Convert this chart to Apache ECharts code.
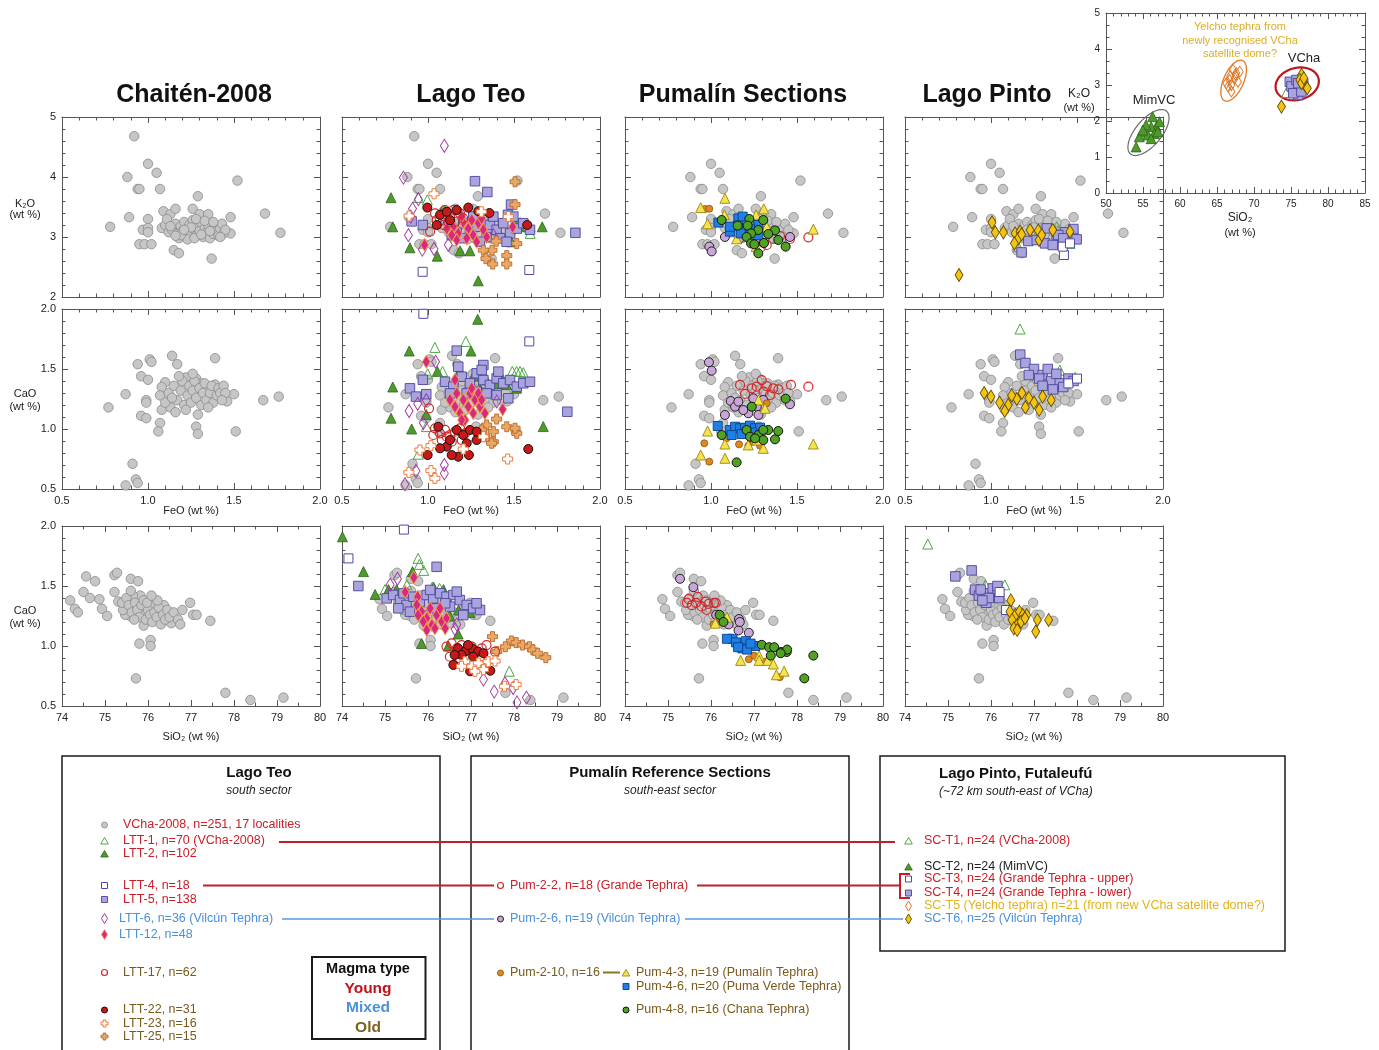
<!DOCTYPE html>
<html><head><meta charset="utf-8">
<script src="https://cdn.jsdelivr.net/npm/echarts@6.0.0/dist/echarts.min.js"></script>
<style>html,body{margin:0;padding:0;background:#fff}#c{width:1379px;height:1050px}</style>
</head><body><div id="c"></div>
<script>
// ---------------- DATA ----------------
const PANEL_TITLES = ['Chaitén-2008', 'Lago Teo', 'Pumalín Sections', 'Lago Pinto'];

// VCha-2008 reference (grey) : FeO-K2O, FeO-CaO, SiO2-CaO
const VCHA_FK = [[1.0,4.22],[1.05,4.07],[0.88,4.0],[0.94,3.8],[0.95,3.8],[1.07,3.8],[1.29,3.68],[1.52,3.94],[0.78,3.17],[0.89,3.33],[1.0,3.3],[0.97,3.12],[1.0,3.15],[1.0,3.08],[0.95,2.88],[0.98,2.88],[1.02,2.88],[1.09,3.43],[1.13,3.38],[1.16,3.47],[1.26,3.47],[1.3,3.38],[1.35,3.38],[1.48,3.33],[1.68,3.39],[1.77,3.07],[1.48,3.06],[1.15,2.78],[1.18,2.73],[1.37,2.64],
 [1.08,3.15],[1.1,3.2],[1.12,3.08],[1.14,3.12],[1.16,3.22],[1.17,3.05],[1.19,3.18],[1.2,3.1],[1.21,3.25],[1.22,3.0],[1.23,3.14],[1.24,3.2],[1.25,3.06],[1.26,3.28],[1.27,3.12],[1.28,3.02],[1.29,3.18],[1.3,3.1],[1.31,3.24],[1.32,3.0],[1.33,3.15],[1.34,3.07],[1.35,3.2],[1.36,2.98],[1.37,3.12],[1.38,3.05],[1.39,3.18],[1.4,3.1],[1.41,3.02],[1.42,3.14],[1.43,3.22],[1.44,3.06],[1.45,3.12],[1.11,3.3],[1.18,2.98],[1.23,2.96],[1.28,3.3],[1.33,3.27],[1.38,3.25],[1.27,2.98],[1.19,3.03],[1.13,3.18],[1.25,3.16],[1.31,3.04],[1.36,3.1],[1.21,3.12],[1.16,3.02],[1.42,3.0]];
const VCHA_FK_EXTRA = [[0.92,4.68]];
const VCHA_FC = [[0.77,1.18],[0.87,0.53],[0.93,0.58],[0.94,0.55],[0.91,0.71],[0.87,1.29],[0.94,1.54],[0.96,1.44],[1.01,1.58],[0.99,1.24],[0.99,1.22],[0.96,1.11],[0.99,1.09],[1.14,1.61],[1.17,1.54],[1.39,1.59],[1.1,1.39],[1.08,1.35],[1.07,1.28],[1.08,1.16],[1.07,1.05],[1.67,1.24],[1.76,1.27],[1.51,0.98],[1.22,1.43],[1.28,1.42],[1.31,1.38],[1.35,1.33],[1.39,1.37],[1.46,1.23],[1.5,1.29],[1.28,1.02],[1.29,0.96],[1.0,1.41],[1.02,1.56],
 [1.12,1.3],[1.15,1.36],[1.17,1.24],[1.19,1.32],[1.2,1.4],[1.21,1.2],[1.23,1.28],[1.24,1.36],[1.25,1.22],[1.26,1.32],[1.27,1.4],[1.28,1.26],[1.3,1.34],[1.31,1.2],[1.32,1.3],[1.33,1.38],[1.34,1.24],[1.36,1.3],[1.37,1.36],[1.38,1.22],[1.4,1.28],[1.41,1.34],[1.42,1.3],[1.44,1.36],[1.45,1.3],[1.13,1.18],[1.16,1.14],[1.22,1.16],[1.29,1.12],[1.35,1.18],[1.1,1.22],[1.18,1.44],[1.26,1.46],[1.43,1.24],[1.14,1.26],[1.06,0.98]];
const VCHA_SC = [[74.87,1.39],[74.93,1.31],[75.05,1.25],[75.22,1.59],[75.28,1.61],[75.22,1.45],[75.6,1.56],[75.77,1.54],[75.59,1.25],[75.82,1.42],[75.9,1.28],[76.12,1.34],[76.37,1.34],[76.98,1.36],[77.05,1.26],[77.13,1.26],[77.45,1.21],[75.72,0.73],[75.8,1.02],[76.06,1.05],[76.06,1.0],[77.8,0.61],[78.38,0.55],[79.15,0.57],[75.31,1.37],[75.52,1.31],[75.9,1.17],[76.54,1.19],[75.65,1.42],[75.47,1.26],[75.42,1.3],
 [75.4,1.36],[75.5,1.4],[75.55,1.34],[75.62,1.28],[75.7,1.36],[75.75,1.3],[75.8,1.24],[75.85,1.34],[75.9,1.38],[75.95,1.22],[76.0,1.3],[76.05,1.26],[76.1,1.2],[76.15,1.28],[76.2,1.24],[76.25,1.32],[76.3,1.18],[76.35,1.26],[76.4,1.22],[76.45,1.3],[76.5,1.24],[75.68,1.22],[75.98,1.36],[76.22,1.38],[75.6,1.46],[76.08,1.42],[76.6,1.28],[76.7,1.22],[76.75,1.18],[76.8,1.3]];
// extra Chaitén-2008 points only shown in the first column (SiO2-CaO)
const VCHA_SC_EXTRA = [[74.19,1.38],[74.3,1.31],[74.37,1.28],[74.56,1.58],[74.77,1.54],[74.5,1.45],[74.65,1.4]];

// Lago Teo
const LTT1_FK = [[0.944,3.66],[0.996,3.62],[1.594,3.06],[1.535,3.24],[1.1,3.45],[1.085,3.44],[1.52,3.2]];
const LTT1_FC = [[1.04,1.68],[1.22,1.73],[0.998,1.46],[0.944,0.79],[0.99,1.02],[1.515,1.48],[1.535,1.48],[1.49,1.48],[1.554,1.47],[1.085,1.48]];
const LTT1_SC = [[75.77,1.73],[75.8,1.68],[75.9,1.63],[75.51,1.51],[77.89,0.79],[75.0,1.47],[76.1,1.49],[76.27,1.48]];
const LTT2_FK = [[0.785,3.655],[0.795,3.17],[0.895,2.82],[1.054,2.68],[1.292,2.27],[1.664,3.17],[1.186,2.77],[1.244,2.77],[1.496,3.17],[1.535,3.17],[1.593,3.17],[1.486,2.92],[1.079,3.41],[1.505,3.25]];
const LTT2_FC = [[1.289,1.914],[0.891,1.65],[0.795,1.35],[0.785,1.09],[0.905,1.0],[1.25,1.65],[1.054,1.48],[1.186,1.49],[1.67,1.02],[0.99,1.12],[1.264,1.44],[1.34,1.41],[1.4,1.38],[1.457,1.37],[1.515,1.34],[1.3,1.34],[1.418,1.46],[1.486,1.41]];
const LTT2_SC = [[74.01,1.91],[74.5,1.62],[74.77,1.43],[75.08,1.47],[75.64,1.62],[75.85,1.02],[76.47,1.0],[76.7,1.1],[75.27,1.47],[76.13,1.49],[76.36,1.47],[76.71,1.3],[76.98,1.28],[76.51,1.25]];
const LTT4_FK = [[0.969,2.42],[1.589,2.45]];
const LTT4_FC = [[0.973,1.96],[1.589,1.73]];
const LTT4_SC = [[75.44,1.97],[74.15,1.73]];
const LTT5_FK = [[1.273,3.93],[1.345,3.75],[1.483,3.54],[1.465,3.37],[1.857,3.07],[0.905,3.26],[0.97,3.2],[1.089,3.28],[1.128,3.2],[1.167,3.12],[1.205,3.23],[1.244,3.06],[1.283,3.17],[1.322,3.28],[1.36,3.2],[1.399,3.12],[1.438,3.23],[1.477,3.06],[1.516,3.14],[1.554,3.23],[1.341,3.0],[1.302,2.92],[1.419,2.98],[1.457,2.92],[1.38,3.34],[1.263,3.34],[1.196,2.98],[1.593,3.12],[1.496,3.34],[1.138,3.03]];
const LTT5_FC = [[1.167,1.653],[1.322,1.533],[1.81,1.144],[0.895,1.339],[0.93,1.27],[0.97,1.41],[0.99,1.29],[1.099,1.394],[1.147,1.353],[1.196,1.436],[1.244,1.381],[1.283,1.464],[1.322,1.408],[1.36,1.367],[1.399,1.422],[1.438,1.381],[1.477,1.408],[1.516,1.353],[1.554,1.381],[1.593,1.394],[1.225,1.297],[1.283,1.311],[1.341,1.297],[1.399,1.283],[1.467,1.256],[1.128,1.297],[1.176,1.519],[1.312,1.492],[1.409,1.478]];
const LTT5_SC = [[74.38,1.5],[76.2,1.66],[75.04,1.397],[75.19,1.425],[75.35,1.383],[75.5,1.342],[75.66,1.411],[75.81,1.369],[75.97,1.425],[76.12,1.397],[76.28,1.439],[76.43,1.411],[76.59,1.425],[76.74,1.383],[76.9,1.342],[77.05,1.314],[77.21,1.3],[75.58,1.286],[75.89,1.258],[76.2,1.314],[76.51,1.328],[76.82,1.258],[75.43,1.439],[76.05,1.467],[76.67,1.453],[75.31,1.314],[76.4,1.356],[77.13,1.356]];
const LTT6_FK = [[1.095,4.52],[0.857,3.99],[0.944,3.63],[0.886,3.03],[0.967,2.79],[1.035,2.8],[1.118,2.87],[0.91,3.47],[1.38,3.03],[0.9,3.34]];
const LTT6_FC = [[1.044,1.56],[0.89,1.15],[0.973,1.05],[1.095,0.70],[1.095,0.63],[0.866,0.54],[0.93,0.65],[0.99,1.24],[1.4,1.23],[0.94,1.21]];
const LTT6_SC = [[75.29,1.56],[77.79,0.69],[77.54,0.62],[77.98,0.65],[78.07,0.53],[78.29,0.57],[77.29,0.72],[76.63,1.14],[76.67,1.18],[75.12,1.51]];
const LTT12_FK = [[1.118,3.28],[1.147,3.17],[1.176,3.06],[1.205,3.25],[1.234,3.14],[1.263,3.03],[1.293,3.23],[1.322,3.12],[1.341,3.0],[1.167,2.95],[1.225,2.98],[1.283,2.92],[1.196,3.34],[1.254,3.28],[1.312,3.31],[1.138,3.03],[1.109,3.14],[1.492,3.17],[0.98,2.87]];
const LTT12_FC = [[1.128,1.242],[1.157,1.186],[1.186,1.131],[1.215,1.075],[1.244,1.297],[1.273,1.242],[1.302,1.186],[1.331,1.131],[1.205,1.242],[1.263,1.131],[1.293,1.297],[1.167,1.297],[1.234,1.186],[1.254,1.339],[1.312,1.242],[1.196,1.075],[0.99,1.56],[1.157,1.41],[1.434,1.164]];
const LTT12_SC = [[75.67,1.57],[75.76,1.41],[75.74,1.342],[75.85,1.286],[75.97,1.231],[76.09,1.175],[76.2,1.258],[76.32,1.203],[76.43,1.231],[75.89,1.203],[76.05,1.314],[76.16,1.147],[75.77,1.258],[76.28,1.314],[76.4,1.147],[75.97,1.133],[75.47,1.45]];
const LTT17_FK = [[1.012,3.09],[1.041,3.395],[1.07,3.28],[1.099,3.45],[1.128,3.34],[1.157,3.25],[1.186,3.395],[1.089,3.2],[1.147,3.45],[1.118,3.25],[1.205,3.31],[1.051,3.28]];
const LTT17_FC = [[1.006,1.172],[1.041,1.006],[1.07,0.964],[1.099,0.992],[1.128,0.95],[1.157,0.978],[1.186,1.006],[1.215,0.964],[1.244,0.936],[1.08,0.908],[1.138,0.894],[1.196,0.908],[1.109,0.936],[1.031,0.95]];
const LTT17_SC = [[76.43,0.994],[76.55,1.022],[76.67,0.981],[76.78,1.008],[76.9,0.967],[77.02,0.994],[77.13,0.953],[77.25,0.981],[76.51,0.911],[76.74,0.897],[76.98,0.897],[77.21,0.911],[77.56,0.953],[77.36,1.008]];
const LTT22_FK = [[0.996,3.49],[1.051,3.2],[1.07,3.37],[1.167,3.45],[1.234,3.49],[1.293,3.43],[1.357,3.4],[1.577,3.2],[1.109,3.42],[1.128,3.28]];
const LTT22_FC = [[0.998,0.783],[1.06,1.019],[1.176,0.769],[1.238,0.783],[1.583,0.833],[1.167,0.992],[1.205,0.95],[1.244,0.992],[1.283,0.908],[1.109,0.853],[1.07,0.839],[1.225,0.881],[1.128,0.908],[1.283,0.978],[1.138,0.783]];
const LTT22_SC = [[76.59,0.842],[77.45,0.794],[76.98,0.789],[76.7,0.981],[76.86,0.953],[77.02,0.981],[77.17,0.953],[76.78,0.925],[77.05,0.911],[77.29,0.939],[76.93,1.008],[76.62,0.925]];
const LTT23_FK = [[1.035,3.72],[0.89,3.35],[1.467,3.34],[1.31,3.42]];
const LTT23_FC = [[0.953,0.825],[0.889,0.639],[1.017,0.653],[1.04,0.589],[1.017,0.861],[1.205,0.833],[1.463,0.75],[1.322,0.936]];
const LTT23_SC = [[76.86,0.869],[77.02,0.831],[77.17,0.858],[77.29,0.803],[77.4,0.869],[77.09,0.789],[77.78,0.664],[78.05,0.678],[77.56,0.875],[76.78,0.831]];
const LTT25_FK = [[1.506,3.92],[1.506,3.54],[1.397,2.93],[1.372,2.78],[1.322,2.78],[1.337,2.64],[1.376,2.55],[1.458,2.69],[1.458,2.55],[1.516,2.89]];
const LTT25_FC = [[1.399,1.083],[1.458,1.019],[1.516,0.964],[1.341,1.033],[1.38,0.978],[1.38,0.894],[1.312,0.992],[1.331,0.936],[1.37,0.881],[1.506,1.006]];
const LTT25_SC = [[77.5,1.078],[77.6,0.953],[77.94,1.042],[78.05,1.028],[78.2,1.008],[78.36,0.994],[78.44,0.967],[78.55,0.939],[78.74,0.903],[77.8,0.994]];

// Pumalín
const PUM22_FK = [[1.566,2.995],[1.459,2.967],[1.324,2.867],[1.401,3.017],[1.362,2.967],[1.304,2.9],[1.29,2.83]];
const PUM22_FC = [[1.566,1.353],[1.465,1.367],[1.295,1.408],[1.198,1.292],[1.169,1.367],[1.237,1.339],[1.266,1.353],[1.324,1.358],[1.362,1.339],[1.392,1.331],[1.305,1.311],[1.343,1.283]];
const PUM22_SC = [[75.44,1.36],[75.69,1.41],[75.88,1.37],[76.07,1.36],[75.56,1.34],[75.78,1.33],[75.94,1.35],[75.48,1.39],[75.9,1.3],[75.65,1.36],[76.11,1.36]];
const PUM26_FK = [[0.99,2.84],[1.004,2.76],[1.081,3.0],[1.459,3.0],[1.165,2.97]];
const PUM26_FC = [[0.988,1.556],[1.004,1.486],[1.115,1.233],[1.081,1.117],[1.14,1.186],[1.159,1.228],[1.266,1.186],[1.217,1.131],[1.276,1.117],[1.459,1.206],[1.304,1.242],[1.246,1.256],[1.188,1.158]];
const PUM26_SC = [[75.28,1.56],[75.59,1.49],[76.65,1.225],[76.41,1.18],[76.64,1.13],[76.88,1.11],[76.12,1.26],[76.67,1.2]];
const PUM210_FK = [[0.965,3.467],[0.99,3.47]];
const PUM210_FC = [[0.961,0.881],[0.99,0.728],[1.09,0.922],[1.163,0.872],[1.217,0.861],[1.285,0.861],[1.324,1.214],[1.246,0.894]];
const PUM210_SC = [[76.06,1.18],[76.88,0.89],[77.26,0.87],[77.6,0.74],[76.2,1.23],[77.0,0.92]];
const PUM43_FK = [[1.081,3.645],[0.94,3.49],[0.98,3.22],[1.307,3.47],[1.262,3.37],[1.078,3.37],[1.595,3.13],[1.149,2.97],[1.324,3.17],[1.262,2.84]];
const PUM43_FC = [[0.98,0.983],[0.94,0.783],[1.081,0.756],[1.081,0.875],[1.595,0.875],[1.276,1.242],[1.314,1.172],[1.304,0.839],[1.217,0.867],[1.266,0.908]];
const PUM43_SC = [[76.37,1.24],[76.69,0.88],[77.12,0.92],[77.12,0.88],[77.32,0.88],[77.45,0.85],[77.52,0.76],[77.7,0.79],[76.1,1.19]];
const PUM46_FK = [[1.043,3.24],[1.11,3.09],[1.159,3.31],[1.184,3.34],[1.159,3.19],[1.275,3.2],[1.275,3.03],[1.11,3.17],[1.173,3.06],[1.227,3.14]];
const PUM46_FC = [[1.039,1.025],[1.11,0.992],[1.14,1.019],[1.169,1.006],[1.198,1.011],[1.227,1.028],[1.256,1.006],[1.285,1.011],[1.12,0.95],[1.178,0.958],[1.237,0.972]];
const PUM46_SC = [[76.5,1.06],[76.58,1.03],[76.81,1.04],[76.73,0.98],[77.03,1.0],[76.84,0.97],[76.37,1.06],[76.63,0.99],[76.92,1.02]];
const PUM48_FK = [[1.062,3.283],[1.155,3.19],[1.223,3.3],[1.304,3.283],[1.213,3.19],[1.275,3.117],[1.372,3.11],[1.333,3.05],[1.233,3.06],[1.207,3.0],[1.233,2.894],[1.308,2.9],[1.391,2.95],[1.434,2.839],[1.275,2.728],[1.252,2.878]];
const PUM48_FC = [[1.062,0.95],[1.434,1.253],[1.237,1.186],[1.149,0.722],[1.207,0.992],[1.227,0.936],[1.275,0.95],[1.304,0.908],[1.333,0.992],[1.372,0.914],[1.391,0.983],[1.304,0.992],[1.256,0.922]];
const PUM48_SC = [[76.2,1.26],[76.29,1.2],[77.18,1.01],[77.35,0.99],[77.39,0.92],[77.47,0.99],[77.63,0.95],[77.76,0.95],[77.77,0.97],[78.38,0.92],[78.17,0.73],[77.62,0.94]];

// Lago Pinto
const SCT1_FK = [[1.382,3.172],[1.459,2.894],[1.159,2.839],[1.42,2.95]];
const SCT1_FC = [[1.169,1.833],[1.4,1.49],[1.49,1.43]];
const SCT1_SC = [[74.53,1.85],[75.87,1.51],[76.32,1.51]];
const SCT3_FK = [[1.424,2.7],[1.417,2.839],[1.459,2.894]];
const SCT3_FC = [[1.45,1.38],[1.5,1.42]];
const SCT3_SC = [[76.35,1.3],[76.2,1.45]];
const SCT4_FK = [[1.178,2.744],[1.217,2.933],[1.266,2.95],[1.314,2.894],[1.382,3.017],[1.43,3.078],[1.479,3.133],[1.498,2.961],[1.324,3.144],[1.359,2.867],[1.391,3.033],[1.42,2.978]];
const SCT4_FC = [[1.17,1.62],[1.2,1.55],[1.25,1.5],[1.3,1.45],[1.35,1.4],[1.4,1.38],[1.45,1.42],[1.48,1.4],[1.28,1.42],[1.33,1.5],[1.38,1.46],[1.42,1.35],[1.22,1.45],[1.3,1.36],[1.36,1.33]];
const SCT4_SC = [[75.17,1.58],[75.55,1.63],[75.63,1.47],[75.72,1.42],[75.89,1.44],[76.04,1.48],[76.15,1.45],[75.89,1.36],[76.19,1.40],[75.76,1.47],[76.15,1.5],[75.95,1.4],[75.8,1.38]];
const SCT6_FK = [[0.814,2.367],[1.006,3.244],[1.025,3.078],[1.072,3.078],[1.14,3.06],[1.169,3.089],[1.159,2.978],[1.136,2.894],[1.227,3.117],[1.275,3.106],[1.279,2.95],[1.295,3.033],[1.359,3.117],[1.459,3.089],[1.178,3.044]];
const SCT6_FC = [[0.96,1.3],[1.0,1.27],[1.05,1.22],[1.1,1.2],[1.15,1.25],[1.2,1.18],[1.25,1.22],[1.3,1.27],[1.35,1.24],[1.08,1.15],[1.18,1.3],[1.28,1.16],[1.12,1.28],[1.22,1.26]];
const SCT6_SC = [[76.46,1.38],[76.44,1.286],[76.57,1.258],[76.66,1.286],[76.74,1.258],[76.83,1.258],[76.49,1.217],[76.61,1.175],[76.7,1.203],[76.79,1.231],[76.53,1.147],[76.61,1.133],[77.08,1.217],[77.34,1.217],[77.04,1.12]];

// Inset SiO2 vs K2O
const SCT2_IN = [[54.07,1.28],[56.3,2.12],[54.97,1.70],[55.65,1.61],[56.78,1.84],[57.23,1.98],[56.1,1.84],[54.5,1.56],[55.4,1.89],[56.55,1.65],[54.97,1.75],[56.1,1.51],[57.0,1.70]];
const SCT5_IN = [[67.16,3.42],[67.6,3.33],[66.7,3.14],[67.4,3.19],[67.84,3.09],[66.5,2.96],[66.94,3.0],[66.94,2.82],[66.26,3.05],[68.07,3.37],[67.5,3.28],[66.8,3.25]];
const SCT4_IN = [[74.84,3.09],[75.52,2.91],[75.97,2.72],[75.07,2.96],[76.2,2.96],[76.65,3.05],[75.74,3.14],[75.3,2.77],[76.4,2.82],[75.97,3.05]];
const SCT6_IN = [[73.71,2.40],[76.42,3.28],[76.65,3.09],[76.2,3.14],[76.87,3.0],[77.2,2.91],[76.42,3.05],[76.74,3.19]];
const SCT1_IN = [[74.39,2.79]];
const INSET_GROUP_CENTERS = [[55.74,1.68],[67.25,3.12],[75.84,3.03]];

// ---------------- STYLES ----------------
const FONT = '"Liberation Sans", Arial, sans-serif';
const CROSS = 'path://M3,0L7,0L7,3L10,3L10,7L7,7L7,10L3,10L3,7L0,7L0,3L3,3Z';
const OPEN = 'rgba(255,255,255,0)';
const STY = {
  gray:  {symbol:'circle', size:9.5, fill:'#c6c6c6', stroke:'#8a8a8a', w:0.8},
  oTriG: {symbol:'triangle', size:10, fill:OPEN, stroke:'#4ea845', w:1},
  fTriG: {symbol:'triangle', size:10, fill:'#4f9a2d', stroke:'#2c6218', w:0.8},
  oSqP:  {symbol:'rect', size:9, fill:'#ffffff', stroke:'#5149a8', w:1},
  fSqP:  {symbol:'rect', size:9.5, fill:'#a9a5dc', stroke:'#4b449e', w:0.9},
  oDiaM: {symbol:'diamond', size:[8,13], fill:OPEN, stroke:'#a23aa6', w:1},
  fDiaP: {symbol:'diamond', size:[8,13], fill:'#d8287f', stroke:'#f2a24a', w:0.9},
  oCirR: {symbol:'circle', size:9, fill:OPEN, stroke:'#d42828', w:1.2},
  fCirR: {symbol:'circle', size:9, fill:'#c81818', stroke:'#111111', w:1},
  oCroO: {symbol:CROSS, size:10, fill:'#ffffff', stroke:'#f07838', w:1},
  fCroT: {symbol:CROSS, size:10, fill:'#eaa868', stroke:'#b86a28', w:0.9},
  fCirL: {symbol:'circle', size:9, fill:'#c9a5d8', stroke:'#222222', w:1},
  fCirO: {symbol:'circle', size:7, fill:'#e0881e', stroke:'#8a5010', w:0.8},
  fTriY: {symbol:'triangle', size:10, fill:'#f4e24e', stroke:'#9c8610', w:0.9},
  fSqB:  {symbol:'rect', size:9, fill:'#1e80e2', stroke:'#0a3f90', w:0.9},
  fCirG: {symbol:'circle', size:9, fill:'#50a222', stroke:'#111111', w:1},
  oDiaO: {symbol:'diamond', size:[7,11], fill:OPEN, stroke:'#e07828', w:1},
  fDiaY: {symbol:'diamond', size:[8,13], fill:'#f4c412', stroke:'#5e4800', w:0.9}
};

// ---------------- LAYOUT ----------------
const COL_LEFT = [62, 342, 625, 905], COL_W = 258;
const ROW_TOP = [117, 309, 526], ROW_H = 180;
const INSET = {left:1106, top:13, width:259, height:180};

const AXK = {
  feo: {min:0.5, max:2.0, interval:0.5, minor:5, fmt:v=>v.toFixed(1)},
  k2o: {min:2, max:5, interval:1, minor:5, fmt:v=>String(v)},
  cao: {min:0.5, max:2.0, interval:0.5, minor:5, fmt:v=>v.toFixed(1)},
  sio2:{min:74, max:80, interval:1, minor:2, fmt:v=>String(v)},
  insx:{min:50, max:85, interval:5, minor:5, fmt:v=>String(v)},
  insy:{min:0, max:5, interval:1, minor:3, fmt:v=>String(v)}
};
const AXCOL = '#555';

const grids = [], xAxes = [], yAxes = [], series = [];
function mkAxis(kind, gi, pos, showLabel, fs) {
  const k = AXK[kind];
  return {
    type:'value', gridIndex:gi, position:pos, min:k.min, max:k.max, interval:k.interval,
    axisLine:{show:true, onZero:false, lineStyle:{color:AXCOL, width:1}},
    axisTick:{show:true, inside:true, length:6, lineStyle:{color:AXCOL, width:1}},
    minorTick:{show:true, splitNumber:k.minor, length:3.5, lineStyle:{color:AXCOL, width:1}},
    splitLine:{show:false}, minorSplitLine:{show:false},
    axisLabel:{show:showLabel, color:'#222', fontSize:fs||11, fontFamily:FONT, margin:6, formatter:k.fmt}
  };
}
function addGrid(box, xk, yk, showX, showY, fs) {
  const gi = grids.length;
  grids.push({left:box.left, top:box.top, width:box.width, height:box.height, containLabel:false, outerBoundsMode:'none'});
  xAxes.push(mkAxis(xk, gi, 'bottom', showX, fs));
  xAxes.push(mkAxis(xk, gi, 'top', false, fs));
  yAxes.push(mkAxis(yk, gi, 'left', showY, fs));
  yAxes.push(mkAxis(yk, gi, 'right', false, fs));
  return gi;
}
function scat(name, data, gi, st, scale) {
  const sc = scale || 1;
  const sz = Array.isArray(st.size) ? st.size.map(v=>v*sc) : st.size*sc;
  series.push({
    type:'scatter', name:name, data:data, xAxisIndex:gi*2, yAxisIndex:gi*2,
    symbol:st.symbol, symbolSize:sz, silent:true,
    itemStyle:{color:st.fill, borderColor:st.stroke, borderWidth:st.w, opacity:1}
  });
}

// column series definitions: [name, styleKey, FK, FC, SC]
const COLS = [
  [['VCha-2008','gray',VCHA_FK,VCHA_FC,VCHA_SC],['VCha-2008','gray',VCHA_FK_EXTRA,[],VCHA_SC_EXTRA]],
  [['VCha-2008','gray',VCHA_FK,VCHA_FC,VCHA_SC],['VCha-2008','gray',VCHA_FK_EXTRA,[],[]],
   ['LTT-2','fTriG',LTT2_FK,LTT2_FC,LTT2_SC],['LTT-1','oTriG',LTT1_FK,LTT1_FC,LTT1_SC],
   ['LTT-5','fSqP',LTT5_FK,LTT5_FC,LTT5_SC],['LTT-4','oSqP',LTT4_FK,LTT4_FC,LTT4_SC],
   ['LTT-6','oDiaM',LTT6_FK,LTT6_FC,LTT6_SC],['LTT-12','fDiaP',LTT12_FK,LTT12_FC,LTT12_SC],
   ['LTT-25','fCroT',LTT25_FK,LTT25_FC,LTT25_SC],['LTT-17','oCirR',LTT17_FK,LTT17_FC,LTT17_SC],
   ['LTT-22','fCirR',LTT22_FK,LTT22_FC,LTT22_SC],['LTT-23','oCroO',LTT23_FK,LTT23_FC,LTT23_SC]],
  [['VCha-2008','gray',VCHA_FK,VCHA_FC,VCHA_SC],
   ['Pum-2-2','oCirR',PUM22_FK,PUM22_FC,PUM22_SC],['Pum-2-6','fCirL',PUM26_FK,PUM26_FC,PUM26_SC],
   ['Pum-2-10','fCirO',PUM210_FK,PUM210_FC,PUM210_SC],['Pum-4-3','fTriY',PUM43_FK,PUM43_FC,PUM43_SC],
   ['Pum-4-6','fSqB',PUM46_FK,PUM46_FC,PUM46_SC],['Pum-4-8','fCirG',PUM48_FK,PUM48_FC,PUM48_SC]],
  [['VCha-2008','gray',VCHA_FK,VCHA_FC,VCHA_SC],
   ['SC-T1','oTriG',SCT1_FK,SCT1_FC,SCT1_SC],['SC-T4','fSqP',SCT4_FK,SCT4_FC,SCT4_SC],
   ['SC-T3','oSqP',SCT3_FK,SCT3_FC,SCT3_SC],['SC-T6','fDiaY',SCT6_FK,SCT6_FC,SCT6_SC]]
];
const ROWKINDS = [['feo','k2o',2],['feo','cao',3],['sio2','cao',4]];
for (let r = 0; r < 3; r++) {
  for (let c = 0; c < 4; c++) {
    const box = {left:COL_LEFT[c], top:ROW_TOP[r], width:COL_W, height:ROW_H};
    const gi = addGrid(box, ROWKINDS[r][0], ROWKINDS[r][1], r > 0, c === 0);
    COLS[c].forEach(s => { const d = s[ROWKINDS[r][2]]; if (d.length) scat(s[0], d, gi, STY[s[1]]); });
  }
}
// inset
const gIn = addGrid(INSET, 'insx', 'insy', true, true, 10);
scat('SC-T2', SCT2_IN, gIn, STY.fTriG, 1.0);
scat('SC-T5', SCT5_IN, gIn, STY.oDiaO, 1.0);
scat('SC-T1', SCT1_IN, gIn, STY.oTriG, 1.0);
scat('SC-T4', SCT4_IN, gIn, STY.fSqP, 1.0);
scat('SC-T6', SCT6_IN, gIn, STY.fDiaY, 1.0);
const ELL = [{rx:28, ry:13, ang:50, color:'#6a6a6a', w:1.2},{rx:22, ry:10, ang:66, color:'#e07828', w:1.3},{rx:22, ry:16, ang:15, color:'#c0141c', w:2.2}];
series.push({
  type:'custom', xAxisIndex:gIn*2, yAxisIndex:gIn*2, data:INSET_GROUP_CENTERS, silent:true, z:1,
  renderItem:function(params, api){
    const s = ELL[params.dataIndex];
    const p = api.coord([api.value(0), api.value(1)]);
    const a = s.ang*Math.PI/180, pts = [];
    for (let k = 0; k < 80; k++) {
      const t = k/80*2*Math.PI, ex = s.rx*Math.cos(t), ey = s.ry*Math.sin(t);
      pts.push([p[0] + ex*Math.cos(a) - ey*Math.sin(a), p[1] - (ex*Math.sin(a) + ey*Math.cos(a))]);
    }
    return {type:'polygon', shape:{points:pts}, style:{fill:'none', stroke:s.color, lineWidth:s.w}};
  }
});

// ---------------- GRAPHIC TEXT / LEGENDS ----------------
const G = [];
function T(x, y, text, o) {
  o = o || {};
  G.push({type:'text', x:x, y:y, z:50, silent:true, style:{
    text:text, fill:o.c || '#222', font:(o.st||'') + ' ' + (o.b ? 'bold ' : '') + (o.fs||12) + 'px ' + FONT,
    align:o.a || 'left', verticalAlign:'middle', textAlign:o.a || 'left', textVerticalAlign:'middle'}});
}
function L(x1, y1, x2, y2, c, w) { G.push({type:'line', z:40, silent:true, shape:{x1:x1,y1:y1,x2:x2,y2:y2}, style:{stroke:c, lineWidth:w}}); }
function R(x, y, w, h, lw) { G.push({type:'rect', z:40, silent:true, shape:{x:x,y:y,width:w,height:h}, style:{fill:'none', stroke:'#1a1a1a', lineWidth:lw}}); }
function S(kind, x, y) {
  const st = STY[kind]; let el;
  const style = {fill:st.fill === OPEN ? '#fff' : st.fill, stroke:st.stroke, lineWidth:st.w};
  if (st.symbol === 'circle') el = {type:'circle', shape:{cx:x, cy:y, r:3}};
  else if (st.symbol === 'triangle') el = {type:'polygon', shape:{points:[[x,y-3.5],[x+3.8,y+3],[x-3.8,y+3]]}};
  else if (st.symbol === 'rect') el = {type:'rect', shape:{x:x-3, y:y-3, width:6, height:6}};
  else if (st.symbol === 'diamond') el = {type:'polygon', shape:{points:[[x,y-5],[x+3,y],[x,y+5],[x-3,y]]}};
  else el = {type:'polygon', shape:{points:[[x-1.3,y-3.5],[x+1.3,y-3.5],[x+1.3,y-1.3],[x+3.5,y-1.3],[x+3.5,y+1.3],[x+1.3,y+1.3],[x+1.3,y+3.5],[x-1.3,y+3.5],[x-1.3,y+1.3],[x-3.5,y+1.3],[x-3.5,y-1.3],[x-1.3,y-1.3]]}};
  el.style = style; el.z = 45; el.silent = true; G.push(el);
}

// panel titles
const titleX = [194, 471, 743, 987];
PANEL_TITLES.forEach((t, i) => T(titleX[i], 95, t, {a:'center', b:true, fs:25, c:'#111'}));
// axis names
[[204,215],[394,407],[611,624]].forEach((yy, r) => {
  T(25, yy[0], r === 0 ? 'K₂O' : 'CaO', {a:'center', fs:11});
  T(25, yy[1], '(wt %)', {a:'center', fs:11});
});
for (let c = 0; c < 4; c++) {
  const cx = COL_LEFT[c] + COL_W/2;
  T(cx, 511, 'FeO (wt %)', {a:'center', fs:11});
  T(cx, 737, 'SiO₂ (wt %)', {a:'center', fs:11});
}
// inset labels
T(1079, 94, 'K₂O', {a:'center', fs:12});
T(1079, 108, '(wt %)', {a:'center', fs:11});
T(1240, 218, 'SiO₂', {a:'center', fs:12});
T(1240, 233, '(wt %)', {a:'center', fs:11});
T(1154, 100, 'MimVC', {a:'center', fs:13});
T(1304, 58, 'VCha', {a:'center', fs:13});
const YEL = '#dcae24';
T(1240, 27, 'Yelcho tephra from', {a:'center', fs:11, c:YEL});
T(1240, 41, 'newly recognised VCha', {a:'center', fs:11, c:YEL});
T(1240, 54, 'satellite dome?', {a:'center', fs:11, c:YEL});

// legend boxes
const RED = '#c8202a', BLUE = '#4a90dc', BROWN = '#7a5a1c', GOLD = '#e2b21c';
R(62, 756, 378, 310, 1.5); R(471, 756, 378, 310, 1.5); R(880, 756, 405, 195, 1.5);
T(259, 773, 'Lago Teo', {a:'center', b:true, fs:15, c:'#111'});
T(259, 791, 'south sector', {a:'center', st:'italic', fs:12});
T(670, 773, 'Pumalín Reference Sections', {a:'center', b:true, fs:15, c:'#111'});
T(670, 791, 'south-east sector', {a:'center', st:'italic', fs:12});
T(939, 774, 'Lago Pinto, Futaleufú', {b:true, fs:15, c:'#111'});
T(939, 792, '(~72 km south-east of VCha)', {st:'italic', fs:12});

// connecting lines
L(279, 842, 895, 842, '#c41e2a', 2);
L(203, 885.5, 494, 885.5, '#c41e2a', 2);
L(697, 885.5, 900, 885.5, '#c41e2a', 2);
G.push({type:'polyline', z:40, silent:true, shape:{points:[[910,874],[900,874],[900,898],[910,898]]}, style:{stroke:'#c41e2a', lineWidth:2, fill:'none'}});
L(282, 919, 494, 919, '#5a9ad8', 1.5);
L(685, 919, 903, 919, '#5a9ad8', 1.5);
L(603, 972.5, 620, 972.5, '#8a7420', 2);

// Lago Teo legend
const LT = [
  ['gray', 825, 'VCha-2008, n=251, 17 localities', RED, 123],
  ['oTriG', 841, 'LTT-1, n=70 (VCha-2008)', RED, 123],
  ['fTriG', 854, 'LTT-2, n=102', RED, 123],
  ['oSqP', 885.5, 'LTT-4, n=18', RED, 123],
  ['fSqP', 899.5, 'LTT-5, n=138', RED, 123],
  ['oDiaM', 918.5, 'LTT-6, n=36 (Vilcún Tephra)', BLUE, 119],
  ['fDiaP', 934.5, 'LTT-12, n=48', BLUE, 119],
  ['oCirR', 972.5, 'LTT-17, n=62', BROWN, 123],
  ['fCirR', 1010, 'LTT-22, n=31', BROWN, 123],
  ['oCroO', 1023.5, 'LTT-23, n=16', BROWN, 123],
  ['fCroT', 1036.5, 'LTT-25, n=15', BROWN, 123]
];
LT.forEach(e => { S(e[0], 104.5, e[1]); T(e[4], e[1], e[2], {c:e[3], fs:12.5}); });
R(312, 957, 113.5, 82, 2);
T(368, 968.5, 'Magma type', {a:'center', b:true, fs:14.5, c:'#111'});
T(368, 988.5, 'Young', {a:'center', b:true, fs:15.5, c:'#c0141c'});
T(368, 1007.5, 'Mixed', {a:'center', b:true, fs:15.5, c:BLUE});
T(368, 1027.5, 'Old', {a:'center', b:true, fs:15.5, c:'#7e621c'});

// Pumalín legend
const PL = [
  ['oCirR', 500.5, 885.5, 'Pum-2-2, n=18 (Grande Tephra)', RED, 510],
  ['fCirL', 500.5, 919, 'Pum-2-6, n=19 (Vilcún Tephra)', BLUE, 510],
  ['fCirO', 500.5, 973, 'Pum-2-10, n=16', BROWN, 510],
  ['fTriY', 626, 973, 'Pum-4-3, n=19 (Pumalín Tephra)', BROWN, 636],
  ['fSqB', 626, 986.5, 'Pum-4-6, n=20 (Puma Verde Tephra)', BROWN, 636],
  ['fCirG', 626, 1010, 'Pum-4-8, n=16 (Chana Tephra)', BROWN, 636]
];
PL.forEach(e => { S(e[0], e[1], e[2]); T(e[5], e[2], e[3], {c:e[4], fs:12.5}); });

// Lago Pinto legend
const LPL = [
  ['oTriG', 841, 'SC-T1, n=24 (VCha-2008)', RED],
  ['fTriG', 867, 'SC-T2, n=24 (MimVC)', '#222'],
  ['oSqP', 879, 'SC-T3, n=24 (Grande Tephra - upper)', RED],
  ['fSqP', 893, 'SC-T4, n=24 (Grande Tephra - lower)', RED],
  ['oDiaO', 906, 'SC-T5 (Yelcho tephra) n=21 (from new VCha satellite dome?)', GOLD],
  ['fDiaY', 919, 'SC-T6, n=25 (Vilcún Tephra)', BLUE]
];
LPL.forEach(e => { S(e[0], 908.5, e[1]); T(924, e[1], e[2], {c:e[3], fs:12.5}); });

const chart = echarts.init(document.getElementById('c'), null, {renderer:'canvas'});
chart.setOption({
  animation:false, backgroundColor:'#ffffff',
  grid:grids, xAxis:xAxes, yAxis:yAxes, series:series, graphic:G
});
</script></body></html>
